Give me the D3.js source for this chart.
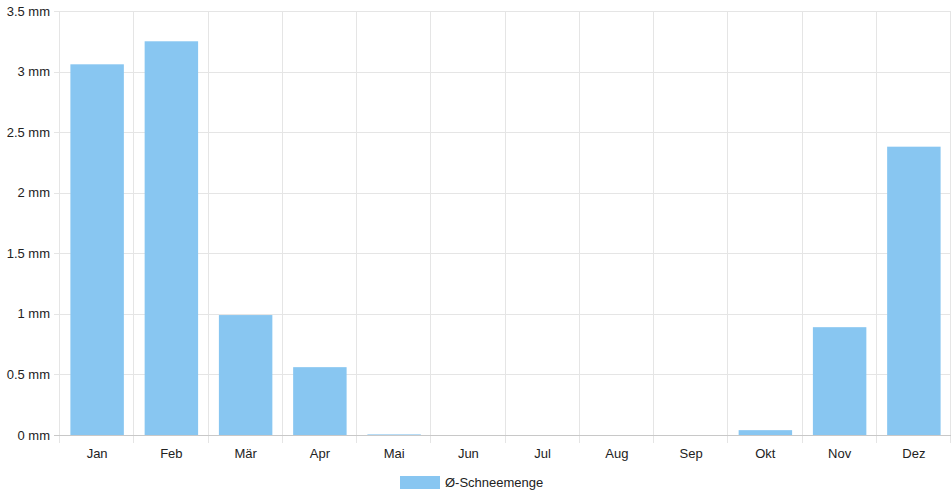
<!DOCTYPE html>
<html>
<head>
<meta charset="utf-8">
<script src="https://cdn.jsdelivr.net/npm/d3@7"></script>
<style>
  html, body { margin:0; padding:0; background:#fff; }
  svg text { font-family: "Liberation Sans", Arial, Helvetica, sans-serif; fill:#222; }
</style>
</head>
<body>
<svg id="chart"></svg>
<script>
const W = 952, H = 500;

// Data
const months = ['Jan','Feb','Mär','Apr','Mai','Jun','Jul','Aug','Sep','Okt','Nov','Dez'];
const snow = [3.06, 3.25, 0.99, 0.56, 0.005, 0, 0, 0, 0, 0.04, 0.89, 2.38];
const yTicks = [0, 0.5, 1, 1.5, 2, 2.5, 3, 3.5];
const seriesName = 'Ø-Schneemenge';

const BAR = '#88c6f1';
const GRID = '#e5e5e5';

const m = {l:60, r:1, t:11, b:65};
const svg = d3.select('#chart').attr('width',W).attr('height',H);

const x = d3.scaleBand().domain(months).range([m.l, W-m.r]);
const y = d3.scaleLinear().domain([0,3.5]).range([H-m.b, m.t]);

// Horizontal grid
const gy = svg.append('g');
gy.selectAll('line').data(yTicks).join('line')
  .attr('x1', m.l-6).attr('x2', W-m.r)
  .attr('y1', d => Math.round(y(d))+.5).attr('y2', d => Math.round(y(d))+.5)
  .attr('stroke', d => d===0 ? '#c8c8c8' : GRID).attr('stroke-width',1);
gy.selectAll('text').data(yTicks).join('text')
  .attr('x', m.l-10).attr('y', d => y(d)).attr('dy','0.35em')
  .attr('text-anchor','end').attr('font-size',13)
  .text(d => d3.format('~g')(d)+' mm');

// Vertical grid (category edges)
const edges = months.map(d => x(d)).concat([W-m.r]);
svg.append('g').selectAll('line').data(edges).join('line')
  .attr('x1', d => Math.round(d)-.5).attr('x2', d => Math.round(d)-.5)
  .attr('y1', m.t).attr('y2', H-m.b+8)
  .attr('stroke', GRID).attr('stroke-width',1);

// Bars
const bw = x.bandwidth()*0.72;
svg.append('g').selectAll('rect').data(months).join('rect')
  .attr('x', (d) => x(d) + (x.bandwidth()-bw)/2)
  .attr('width', bw)
  .attr('y', (d,i) => y(snow[i]))
  .attr('height', (d,i) => y(0) - y(snow[i]))
  .attr('fill', BAR);

// Redraw zero line on top
svg.append('line').attr('x1', m.l-6).attr('x2', W-m.r)
  .attr('y1', Math.round(y(0))+.5).attr('y2', Math.round(y(0))+.5)
  .attr('stroke','#c8c8c8');

// X labels
svg.append('g').selectAll('text').data(months).join('text')
  .attr('x', d => x(d)+x.bandwidth()/2).attr('y', H-m.b+18).attr('dy','0.35em')
  .attr('text-anchor','middle').attr('font-size',13)
  .text(d => d);

// Legend
const lg = svg.append('g').attr('transform','translate(400,476)');
lg.append('rect').attr('width',40).attr('height',13).attr('fill',BAR);
lg.append('text').attr('x',45).attr('y',6.5).attr('dy','0.35em')
  .attr('font-size',13).text(seriesName);
</script>
</body>
</html>
